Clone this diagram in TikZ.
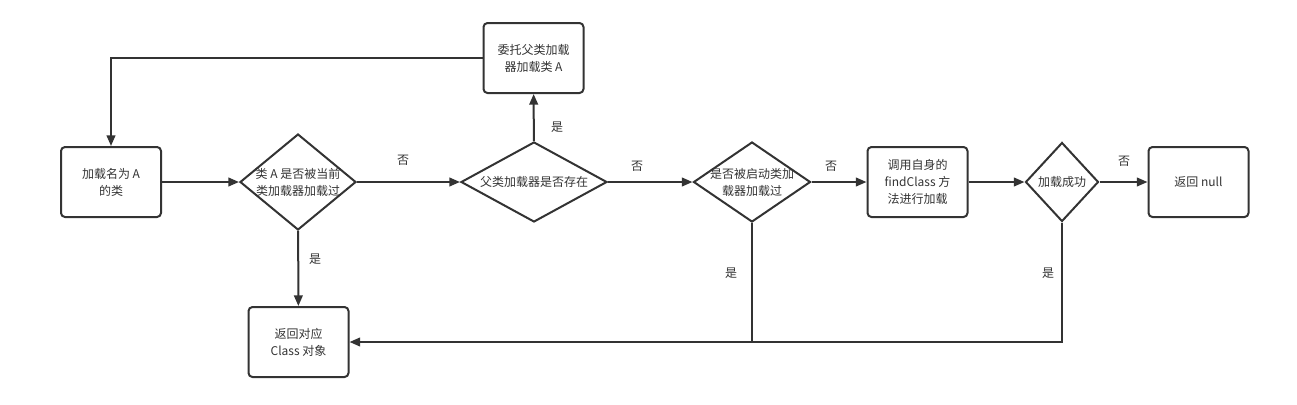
\documentclass[tikz,border=0pt]{standalone}
\usepackage{fontspec}
\setmainfont{Noto Sans CJK SC}
\usetikzlibrary{arrows.meta,shapes.geometric}
\definecolor{ink}{HTML}{333333}
\definecolor{inktext}{HTML}{333333}
\tikzset{
  lab/.style={text=inktext, font=\fontsize{9}{12.75}\selectfont, align=center, inner sep=0pt},
  box/.style={lab, draw=ink, line width=1.5pt, rounded corners=3pt, minimum width=75pt, minimum height=52.5pt},
  dia/.style={draw=ink, line width=1.5pt, diamond, inner sep=0pt},
  flow/.style={draw=ink, line width=1.5pt, -{Triangle[length=8pt,width=6.5pt]}},
  wire/.style={draw=ink, line width=1.5pt},
}
\begin{document}
\begin{tikzpicture}[x=0.75pt,y=-0.75pt]
  \useasboundingbox (0,0) rectangle (1297,404);
  % boxes
  \node[box] (load) at (111,182) {加载名为 A\\的类};
  \node[box] (parent) at (533.5,58) {委托父类加载\\器加载类 A};
  \node[box] (find) at (917.5,182) {调用自身的\\findClass 方\\法进行加载};
  \node[box] (null) at (1198.5,182) {返回 null};
  \node[box] (ret) at (298.5,342) {返回对应\\Class 对象};
  % decisions
  \node[dia, minimum width=87pt, minimum height=72pt] (loaded) at (298,182) {};
  \node[lab] (loadedt) at (loaded) {类 A 是否被当前\\类加载器加载过};
  \node[dia, minimum width=109.5pt, minimum height=60pt] (hasp) at (534,182) {};
  \node[lab] (haspt) at (hasp) {父类加载器是否存在};
  \node[dia, minimum width=87.75pt, minimum height=60pt] (boot) at (752,182) {};
  \node[lab] (boott) at (boot) {是否被启动类加\\载器加载过};
  \node[dia, minimum width=54.75pt, minimum height=59.25pt] (ok) at (1062,182) {};
  \node[lab] (okt) at (ok) {加载成功};
  % connectors
  \draw[flow] (load) -- (loaded);
  \draw[flow] (loaded) -- (hasp);
  \draw[flow] (hasp) -- (parent);
  \draw[flow] (parent.west) -| (load.north);
  \draw[flow] (hasp) -- (boot);
  \draw[flow] (boot) -- (find);
  \draw[flow] (find) -- (ok);
  \draw[flow] (ok) -- (null);
  \draw[flow] (loaded) -- (ret);
  \draw[flow] (boot.south) |- (ret.east);
  \coordinate (meet) at (boot.south |- ret.east);
  \draw[wire] (ok.south) |- (meet);
  % edge labels
  \node[lab] (n1) at (403,160) {否};
  \node[lab] (y1) at (557,127) {是};
  \node[lab] (n2) at (637,166) {否};
  \node[lab] (n3) at (831,166) {否};
  \node[lab] (n4) at (1124,161) {否};
  \node[lab] (y2) at (315,259) {是};
  \node[lab] (y3) at (731,273) {是};
  \node[lab] (y4) at (1048,273) {是};
\end{tikzpicture}
\end{document}
